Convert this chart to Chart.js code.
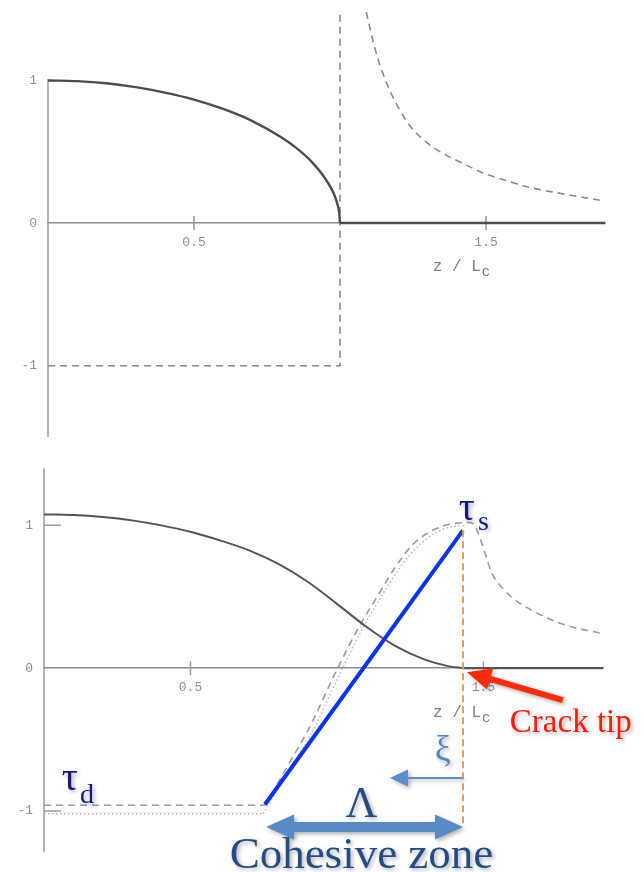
<!DOCTYPE html>
<html>
<head>
<meta charset="utf-8">
<script src="https://cdn.jsdelivr.net/npm/chart.js@4.4.1/dist/chart.umd.min.js"></script>
<style>
  html, body { margin: 0; padding: 0; background: #fff; }
  #wrap { position: relative; width: 644px; height: 872px; overflow: hidden; background: #fff; }
  canvas { position: absolute; left: 0; }
  #crackPlot { top: 0; }
  #cohesivePlot { top: 440px; }
</style>
</head>
<body>
<div id="wrap">
  <canvas id="crackPlot" width="644" height="440"></canvas>
  <canvas id="cohesivePlot" width="644" height="432"></canvas>
</div>
<script>
// axis ticks (z / Lc and normalised slip / stress)
const zTicks = [0.5, 1.5];
const yTicks = [-1, 0, 1];

// upper panel: sharp crack, slip and stress
const crackSlipZ = [0, 0.1, 0.2, 0.3, 0.4, 0.5, 0.6, 0.7, 0.8, 0.85, 0.9, 0.95, 0.98, 0.99, 0.997, 1.0];
const crackSlip  = [1.0, 0.995, 0.98, 0.953, 0.915, 0.866, 0.8, 0.715, 0.6, 0.527, 0.436, 0.31, 0.2, 0.14, 0.077, 0];
const crackLockedZ = [1.0, 1.9075];
const crackLocked  = [0, 0];
const crackStressInZ = [0, 1.0, 1.0];
const crackStressIn  = [-1, -1, 1.48];
const crackStressOutZ = [1.09, 1.12, 1.16, 1.2, 1.24, 1.3, 1.36, 1.42, 1.48, 1.55, 1.65, 1.75, 1.89];
const crackStressOut  = [1.48, 1.22, 0.98, 0.81, 0.68, 0.56, 0.48, 0.42, 0.36, 0.31, 0.25, 0.21, 0.16];

// lower panel: crack with cohesive zone
const czSlipZ = [0, 0.1, 0.2, 0.3, 0.4, 0.5, 0.6, 0.7, 0.8, 0.9, 1.0, 1.1, 1.2, 1.3, 1.38, 1.43];
const czSlip  = [1.077, 1.072, 1.058, 1.035, 1.0, 0.955, 0.895, 0.825, 0.73, 0.605, 0.45, 0.29, 0.155, 0.06, 0.014, 0];
const czLockedZ = [1.43, 1.908];
const czLocked  = [0, 0];
const czStressFlatZ = [0, 0.755];
const czStressFlat  = [-0.96, -0.96];
const czStressZ = [0.755, 0.83, 0.9, 1.0, 1.07, 1.143, 1.2, 1.256, 1.307, 1.37, 1.45, 1.47, 1.49, 1.53, 1.57, 1.61, 1.67, 1.73, 1.8, 1.9];
const czStress  = [-0.96, -0.69, -0.44, -0.01, 0.27, 0.52, 0.71, 0.86, 0.944, 1.0, 1.02, 1.0, 0.9, 0.66, 0.55, 0.475, 0.4, 0.34, 0.29, 0.245];
const czFrictionFlatZ = [0, 0.748];
const czFrictionFlat  = [-1.02, -1.02];
const czFrictionZ = [0.748, 0.835, 0.91, 1.01, 1.085, 1.16, 1.22, 1.28, 1.33, 1.39, 1.44];
const czFriction  = [-1.02, -0.72, -0.47, -0.04, 0.27, 0.53, 0.72, 0.86, 0.94, 0.99, 1.0];
// linear weakening from tau_d to tau_s across the zone
const weakeningZ = [0.754, 1.43];
const weakening  = [-0.955, 0.965];
const tipMarkerZ = [1.43, 1.43];
const tipMarker  = [0.965, -1.11];

const pts = (zs, vs) => zs.map((z, i) => ({ x: z, y: vs[i] }));

const tickFont = { family: 'Liberation Mono', size: 13 };
const shadow = { color: 'rgba(0,0,0,0.32)', blur: 4, dx: 2, dy: 2 };

function toPx(chart, z, v) {
  return [chart.scales.x.getPixelForValue(z), chart.scales.y.getPixelForValue(v)];
}

// filled block arrow, optional head on both ends
function blockArrow(ctx, x1, y1, x2, y2, a) {
  const len = Math.hypot(x2 - x1, y2 - y1);
  const ux = (x2 - x1) / len, uy = (y2 - y1) / len;
  const nx = -uy, ny = ux;
  const sw = a.shaft / 2, hw = a.headW / 2, hl = a.headL;
  const p = (x, y, along, across) => [x + ux * along + nx * across, y + uy * along + ny * across];
  const poly = [];
  if (a.both) poly.push(p(x1, y1, 0, 0), p(x1, y1, hl, hw), p(x1, y1, hl, sw));
  else poly.push(p(x1, y1, 0, sw));
  poly.push(p(x2, y2, -hl, sw), p(x2, y2, -hl, hw), p(x2, y2, 0, 0), p(x2, y2, -hl, -hw), p(x2, y2, -hl, -sw));
  if (a.both) poly.push(p(x1, y1, hl, -sw), p(x1, y1, hl, -hw));
  else poly.push(p(x1, y1, 0, -sw));
  ctx.beginPath();
  poly.forEach(([x, y], i) => (i ? ctx.lineTo(x, y) : ctx.moveTo(x, y)));
  ctx.closePath();
  ctx.fill();
}

function setShadow(ctx, on) {
  ctx.shadowColor = on ? shadow.color : 'transparent';
  ctx.shadowBlur = on ? shadow.blur : 0;
  ctx.shadowOffsetX = on ? shadow.dx : 0;
  ctx.shadowOffsetY = on ? shadow.dy : 0;
}

function makeDecor(spec) {
  return {
    id: 'decor',
    beforeDatasetsDraw(chart) {
      const ctx = chart.ctx;
      const [x0, y0] = toPx(chart, 0, 0);
      ctx.save();
      ctx.strokeStyle = '#9a9a9a';
      ctx.lineWidth = 1.5;
      ctx.beginPath();
      ctx.moveTo(x0, chart.scales.y.getPixelForValue(spec.yAxis[0]));
      ctx.lineTo(x0, chart.scales.y.getPixelForValue(spec.yAxis[1]));
      zTicks.forEach(t => {
        const tx = chart.scales.x.getPixelForValue(t);
        ctx.moveTo(tx, y0 - 7);
        ctx.lineTo(tx, y0 + 7);
      });
      spec.innerTicks.forEach(t => {
        const ty = chart.scales.y.getPixelForValue(t);
        ctx.moveTo(x0, ty);
        ctx.lineTo(x0 + 17, ty);
      });
      ctx.stroke();
      ctx.restore();
    },
    afterDatasetsDraw(chart) {
      const ctx = chart.ctx;
      ctx.save();
      spec.arrows.forEach(a => {
        const [x1, y1] = toPx(chart, a.from[0], a.from[1]);
        const [x2, y2] = toPx(chart, a.to[0], a.to[1]);
        setShadow(ctx, a.shadow);
        ctx.fillStyle = a.color;
        blockArrow(ctx, x1, y1, x2, y2, a);
      });
      spec.labels.forEach(l => {
        const [x, y] = toPx(chart, l.at[0], l.at[1]);
        setShadow(ctx, l.shadow);
        ctx.fillStyle = l.color;
        ctx.font = l.font;
        ctx.textAlign = l.align || 'left';
        ctx.textBaseline = 'alphabetic';
        ctx.fillText(l.text, x, y);
        if (l.sub) {
          const w = ctx.measureText(l.text).width;
          const sx = l.align === 'center' ? x + w / 2 : x + w;
          ctx.font = l.subFont;
          ctx.textAlign = 'left';
          ctx.fillText(l.sub, sx + l.subDx, y + l.subDy);
        }
      });
      ctx.restore();
    }
  };
}

function makeChart(id, cfg) {
  return new Chart(document.getElementById(id), {
    type: 'line',
    data: { datasets: cfg.datasets },
    options: {
      responsive: false,
      animation: false,
      events: [],
      layout: { padding: cfg.padding },
      elements: {
        point: { radius: 0 },
        line: { cubicInterpolationMode: 'monotone', capBezierPoints: true }
      },
      scales: {
        x: {
          type: 'linear', min: 0, max: cfg.zMax,
          position: { y: 0 },
          grid: { display: false, drawTicks: false },
          border: { color: '#8c8c8c', width: 1.5 },
          ticks: { padding: 12, color: '#8f8f8f', font: tickFont, callback: v => String(v) },
          afterBuildTicks: s => { s.ticks = zTicks.map(value => ({ value })); },
          afterFit: s => { s.paddingLeft = 0; s.paddingRight = 0; }
        },
        y: {
          type: 'linear', min: cfg.yMin, max: cfg.yMax,
          position: 'left',
          grid: { display: false, drawTicks: false },
          border: { display: false },
          ticks: { padding: 11, color: '#8f8f8f', font: tickFont, callback: v => String(v) },
          afterBuildTicks: s => { s.ticks = yTicks.map(value => ({ value })); },
          afterFit: s => { s.width = cfg.axisLeft; s.paddingTop = 0; s.paddingBottom = 0; }
        }
      },
      plugins: { legend: { display: false }, tooltip: { enabled: false } }
    },
    plugins: [makeDecor(cfg.decor)]
  });
}

const solid = (data, color, width) => ({ data, borderColor: color, borderWidth: width, fill: false });
const dashed = (data, color, width, dash) => ({ data, borderColor: color, borderWidth: width, borderDash: dash, fill: false });
const straight = ds => Object.assign(ds, { tension: 0, cubicInterpolationMode: 'default' });

const axisTitle = (z, v) => ({
  text: 'z / L', sub: 'c', at: [z, v], color: '#7d7d7d',
  font: '16px "Liberation Mono"', subFont: '14px "Liberation Mono"', subDx: 1, subDy: 5
});

makeChart('crackPlot', {
  zMax: 1.9075, yMin: -1.5, yMax: 1.55, axisLeft: 48,
  padding: { left: 0, top: 2, right: 39, bottom: 3 },
  datasets: [
    solid(pts(crackSlipZ, crackSlip), '#4d4d4d', 2.4),
    straight(solid(pts(crackLockedZ, crackLocked), '#4d4d4d', 2.6)),
    straight(dashed(pts(crackStressInZ, crackStressIn), '#8a8a8a', 1.6, [7, 5])),
    dashed(pts(crackStressOutZ, crackStressOut), '#8a8a8a', 1.6, [7, 5])
  ],
  decor: {
    yAxis: [1.01, -1.5],
    innerTicks: [],
    arrows: [],
    labels: [axisTitle(1.318, -0.337)]
  }
});

makeChart('cohesivePlot', {
  zMax: 1.908, yMin: -1.4, yMax: 1.57, axisLeft: 44,
  padding: { left: 0, top: 4, right: 41, bottom: 4 },
  datasets: [
    straight(dashed(pts(tipMarkerZ, tipMarker), '#f39a3c', 2, [7, 4])),
    straight(solid(pts(weakeningZ, weakening), '#0c33f2', 4)),
    solid(pts(czSlipZ, czSlip), '#555555', 2),
    straight(solid(pts(czLockedZ, czLocked), '#555555', 2.2)),
    straight(dashed(pts(czStressFlatZ, czStressFlat), '#9a9a9a', 1.6, [7, 5])),
    dashed(pts(czStressZ, czStress), '#9a9a9a', 1.6, [7, 5]),
    straight(dashed(pts(czFrictionFlatZ, czFrictionFlat), '#b3b3b3', 1.4, [1.5, 2.5])),
    dashed(pts(czFrictionZ, czFriction), '#b3b3b3', 1.4, [1.5, 2.5])
  ],
  decor: {
    yAxis: [1.4, -1.29],
    innerTicks: [1, -1],
    arrows: [
      { from: [1.771, -0.224], to: [1.444, -0.028], shaft: 6, headL: 24, headW: 22, color: '#ff2a0a', shadow: true },
      { from: [1.43, -0.769], to: [1.181, -0.769], shaft: 2, headL: 18, headW: 17, color: '#5b8fcb', shadow: true },
      { from: [0.758, -1.112], to: [1.43, -1.112], shaft: 10, headL: 28, headW: 25, both: true, color: '#5a8ac6', shadow: true }
    ],
    labels: [
      axisTitle(1.328, -0.343),
      { text: 'τ', sub: 's', at: [1.416, 1.035], color: '#17187f', font: '40px "Liberation Serif"', subFont: '28px "Liberation Serif"', subDx: 3, subDy: 10, shadow: true },
      { text: 'τ', sub: 'd', at: [0.061, -0.853], color: '#17187f', font: '40px "Liberation Serif"', subFont: '28px "Liberation Serif"', subDx: 2, subDy: 13, shadow: true },
      { text: 'Crack tip', at: [1.59, -0.448], color: '#ff1a0a', font: '33px "Liberation Serif"', shadow: true },
      { text: 'ξ', at: [1.334, -0.643], color: '#4f86c6', font: '36px "Liberation Serif"', shadow: true },
      { text: 'Λ', at: [1.0836, -1.042], align: 'center', color: '#244c82', font: '44px "Liberation Serif"', shadow: true },
      { text: 'Cohesive zone', at: [1.0836, -1.399], align: 'center', color: '#244c82', font: '45px "Liberation Serif"', shadow: true }
    ]
  }
});
</script>
</body>
</html>
